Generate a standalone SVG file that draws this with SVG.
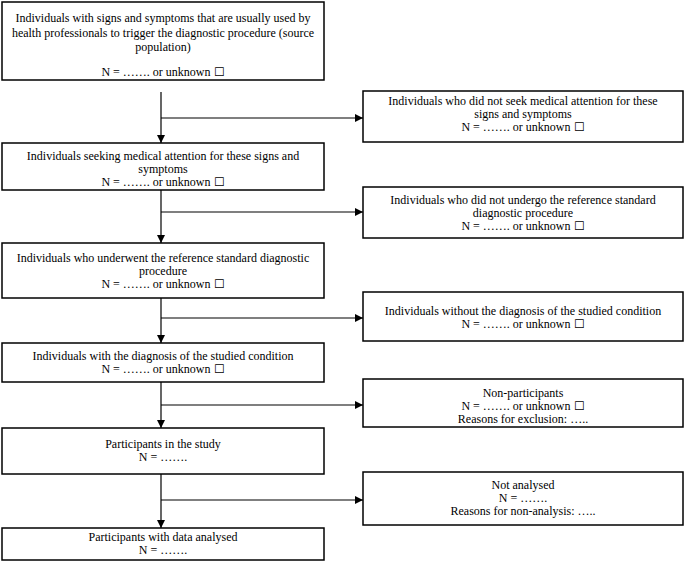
<svg xmlns="http://www.w3.org/2000/svg" width="685" height="562" viewBox="0 0 685 562">
<defs>
<style>
.box{fill:#fff;stroke:#000;stroke-width:1.5}
text{font-family:"Liberation Serif","Tinos","Times New Roman","DejaVu Serif",serif;font-size:12px;fill:#000;text-anchor:middle}
.con{stroke:#000;stroke-width:1.2;fill:none}
</style>
<marker id="ah" viewBox="0 0 8 8" refX="8" refY="4" markerWidth="8" markerHeight="8" markerUnits="userSpaceOnUse" orient="auto">
<path d="M0,0 L8,4 L0,8 Z" fill="#000"/>
</marker>
</defs>
<rect width="685" height="562" fill="#fff"/>
<g id="connectors">
<line class="con" x1="161" y1="92" x2="161" y2="143" marker-end="url(#ah)"/>
<line class="con" x1="161" y1="118" x2="363" y2="118" marker-end="url(#ah)"/>
<line class="con" x1="161" y1="190" x2="161" y2="243" marker-end="url(#ah)"/>
<line class="con" x1="161" y1="212" x2="363" y2="212" marker-end="url(#ah)"/>
<line class="con" x1="161" y1="298" x2="161" y2="343" marker-end="url(#ah)"/>
<line class="con" x1="161" y1="318" x2="363" y2="318" marker-end="url(#ah)"/>
<line class="con" x1="161" y1="382" x2="161" y2="428" marker-end="url(#ah)"/>
<line class="con" x1="161" y1="405" x2="363" y2="405" marker-end="url(#ah)"/>
<line class="con" x1="161" y1="474" x2="161" y2="528" marker-end="url(#ah)"/>
<line class="con" x1="161" y1="500" x2="363" y2="500" marker-end="url(#ah)"/>
</g>
<g id="n1">
<rect class="box" x="2" y="2" width="322" height="78"/>
<text x="163" y="22">Individuals with signs and symptoms that are usually used by</text>
<text x="163" y="37">health professionals to trigger the diagnostic procedure (source</text>
<text x="163" y="51">population)</text>
<text x="163" y="76">N = ……. or unknown ☐</text>
</g>
<g id="n2">
<rect class="box" x="363" y="91" width="320" height="51"/>
<text x="523" y="105">Individuals who did not seek medical attention for these</text>
<text x="523" y="118">signs and symptoms</text>
<text x="523" y="131">N = ……. or unknown ☐</text>
</g>
<g id="n3">
<rect class="box" x="2" y="143" width="322" height="47"/>
<text x="163" y="160">Individuals seeking medical attention for these signs and</text>
<text x="163" y="173">symptoms</text>
<text x="163" y="186">N = ……. or unknown ☐</text>
</g>
<g id="n4">
<rect class="box" x="363" y="187" width="320" height="51"/>
<text x="523" y="204">Individuals who did not undergo the reference standard</text>
<text x="523" y="217">diagnostic procedure</text>
<text x="523" y="230">N = ……. or unknown ☐</text>
</g>
<g id="n5">
<rect class="box" x="2" y="243" width="322" height="55"/>
<text x="163" y="262">Individuals who underwent the reference standard diagnostic</text>
<text x="163" y="275">procedure</text>
<text x="163" y="288">N = ……. or unknown ☐</text>
</g>
<g id="n6">
<rect class="box" x="363" y="292" width="320" height="49"/>
<text x="523" y="315">Individuals without the diagnosis of the studied condition</text>
<text x="523" y="328">N = ……. or unknown ☐</text>
</g>
<g id="n7">
<rect class="box" x="2" y="343" width="322" height="39"/>
<text x="163" y="360">Individuals with the diagnosis of the studied condition</text>
<text x="163" y="373">N = ……. or unknown ☐</text>
</g>
<g id="n8">
<rect class="box" x="363" y="379" width="320" height="48"/>
<text x="523" y="397">Non-participants</text>
<text x="523" y="410">N = ……. or unknown ☐</text>
<text x="523" y="423">Reasons for exclusion: …..</text>
</g>
<g id="n9">
<rect class="box" x="2" y="428" width="322" height="46"/>
<text x="163" y="448">Participants in the study</text>
<text x="163" y="461">N = …….</text>
</g>
<g id="n10">
<rect class="box" x="363" y="472" width="320" height="53"/>
<text x="523" y="489">Not analysed</text>
<text x="523" y="502">N = …….</text>
<text x="523" y="515">Reasons for non-analysis: …..</text>
</g>
<g id="n11">
<rect class="box" x="2" y="528" width="322" height="32"/>
<text x="163" y="541">Participants with data analysed</text>
<text x="163" y="554">N = …….</text>
</g>
</svg>
